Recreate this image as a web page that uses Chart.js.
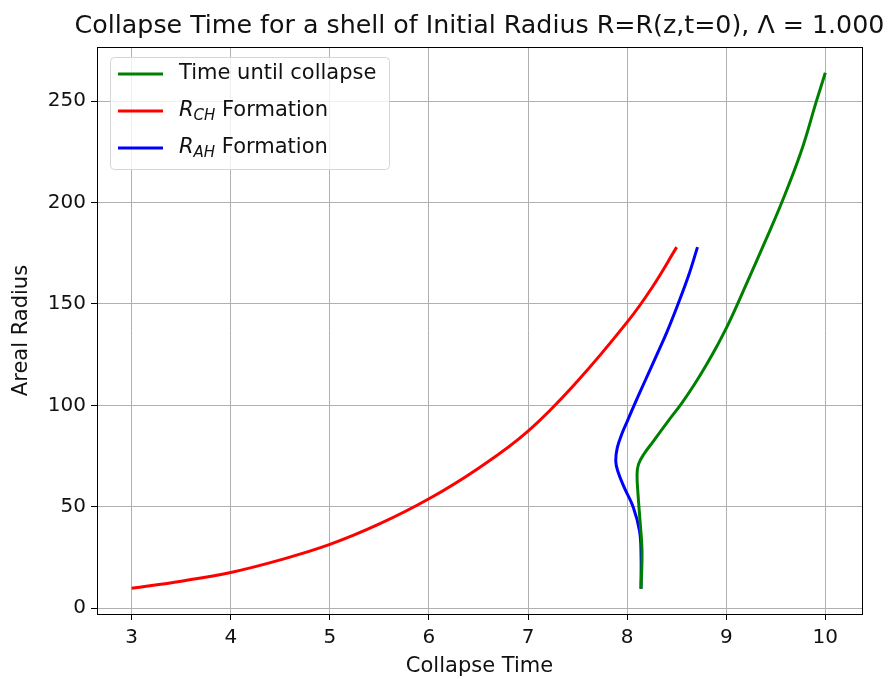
<!DOCTYPE html>
<html>
<head>
<meta charset="utf-8">
<script src="https://cdn.jsdelivr.net/npm/chart.js@4"></script>
<style>
  html, body { margin: 0; padding: 0; background: #fff; }
  #wrap { width: 890px; height: 679px; }
</style>
</head>
<body>
<div id="wrap"><canvas id="collapseChart"></canvas></div>
<script>
// Values
const xTicks = [3, 4, 5, 6, 7, 8, 9, 10];
const yTicks = [0, 50, 100, 150, 200, 250];

const collapseX = [8.14, 8.15, 8.13, 8.11, 8.10, 8.115, 8.17, 8.26, 8.41, 8.55, 8.675, 8.80, 8.915, 9.03, 9.205, 9.385, 9.56, 9.755, 9.91, 10.0];
const collapseY = [9.5, 28, 43, 56, 66, 71, 76, 82, 92, 101, 110, 120, 130, 141, 160, 180, 200, 225, 250, 264];

const rchX = [3.0, 3.5, 4.0, 4.5, 5.0, 5.5, 6.0, 6.5, 7.0, 7.5, 8.0, 8.25, 8.5];
const rchY = [9.8, 13.3, 17.6, 23.8, 31.4, 41.5, 53.9, 69.0, 87.3, 112, 141, 158, 178];

const rahX = [8.14, 8.14, 8.125, 8.06, 7.97, 7.905, 7.885, 7.90, 7.955, 8.00, 8.07, 8.18, 8.30, 8.40, 8.51, 8.62, 8.71];
const rahY = [9.5, 27, 38, 50, 59.5, 67.6, 72.5, 79, 87, 92, 100, 112, 125, 136, 149.5, 164, 178];

const FONT = "'DejaVu Sans', sans-serif";
const INK = '#111';

function pts(xs, ys) {
  return xs.map((x, i) => ({ x: x, y: ys[i] }));
}

const series = [
  { label: 'Time until collapse', sub: null, color: '#008000', data: pts(collapseX, collapseY) },
  { label: ' Formation', sub: 'CH', color: '#ff0000', data: pts(rchX, rchY) },
  { label: ' Formation', sub: 'AH', color: '#0000ff', data: pts(rahX, rahY) },
];

// frame, title and matplotlib-style legend
const decor = {
  id: 'decor',
  afterDraw(chart) {
    const { ctx, chartArea: a } = chart;
    ctx.save();
    ctx.strokeStyle = '#000';
    ctx.lineWidth = 1;
    ctx.strokeRect(a.left + 0.5, a.top + 0.5, a.right - a.left, a.bottom - a.top);

    ctx.fillStyle = INK;
    ctx.font = '25.3px ' + FONT;
    ctx.textAlign = 'center';
    ctx.textBaseline = 'alphabetic';
    ctx.fillText('Collapse Time for a shell of Initial Radius R=R(z,t=0), \u039B = 1.000', (a.left + a.right) / 2, 33);

    // legend box
    const bx = 110, by = 57, bw = 279, bh = 112, r = 4;
    ctx.beginPath();
    ctx.roundRect(bx + 0.5, by + 0.5, bw, bh, r);
    ctx.fillStyle = 'rgba(255,255,255,0.8)';
    ctx.fill();
    ctx.strokeStyle = '#d6d6d6';
    ctx.stroke();

    ctx.textAlign = 'left';
    ctx.textBaseline = 'middle';
    series.forEach((s, i) => {
      const y = 74 + i * 37;
      ctx.strokeStyle = s.color;
      ctx.lineWidth = 3;
      ctx.beginPath();
      ctx.moveTo(118, y);
      ctx.lineTo(163, y);
      ctx.stroke();
      ctx.fillStyle = INK;
      let x = 179;
      if (s.sub) {
        ctx.font = 'italic 21px ' + FONT;
        ctx.fillText('R', x, y);
        x += ctx.measureText('R').width;
        ctx.font = 'italic 15px ' + FONT;
        ctx.fillText(s.sub, x, y + 5);
        x += ctx.measureText(s.sub).width;
      }
      ctx.font = '21px ' + FONT;
      ctx.fillText(s.label, x, y);
    });
    ctx.restore();
  }
};

new Chart(document.getElementById('collapseChart'), {
  type: 'scatter',
  data: {
    datasets: series.map(s => ({
      label: s.sub ? 'R' + s.sub + s.label : s.label,
      data: s.data,
      showLine: true,
      borderColor: s.color,
      backgroundColor: s.color,
      borderWidth: 3,
      pointRadius: 0,
      tension: 0.4,
    })),
  },
  options: {
    responsive: true,
    maintainAspectRatio: false,
    animation: false,
    layout: { padding: { top: 47, right: 28, left: 0, bottom: 0 } },
    plugins: {
      legend: { display: false },
      tooltip: { enabled: false },
    },
    scales: {
      x: {
        type: 'linear',
        min: 2.65,
        max: 10.37,
        afterBuildTicks: (s) => { s.ticks = xTicks.map(v => ({ value: v })); },
        afterFit: (s) => { s.height = 65; },
        grid: { color: '#b0b0b0', lineWidth: 1, tickColor: '#000', tickLength: 6 },
        border: { display: true, color: '#000', width: 1 },
        ticks: { color: INK, font: { family: FONT, size: 20 }, padding: 6, maxRotation: 0 },
        title: { display: true, text: 'Collapse Time', color: INK, font: { family: FONT, size: 21 }, padding: { top: 0, bottom: 0 } },
      },
      y: {
        type: 'linear',
        min: -2.9,
        max: 276.7,
        afterBuildTicks: (s) => { s.ticks = yTicks.map(v => ({ value: v })); },
        afterFit: (s) => { s.width = 97; },
        grid: { color: '#b0b0b0', lineWidth: 1, tickColor: '#000', tickLength: 6 },
        border: { display: true, color: '#000', width: 1 },
        ticks: { color: INK, font: { family: FONT, size: 20 }, padding: 5 },
        title: { display: true, text: 'Areal Radius', color: INK, font: { family: FONT, size: 21 }, padding: { top: 9, bottom: 0 } },
      },
    },
  },
  plugins: [decor],
});
</script>
</body>
</html>
